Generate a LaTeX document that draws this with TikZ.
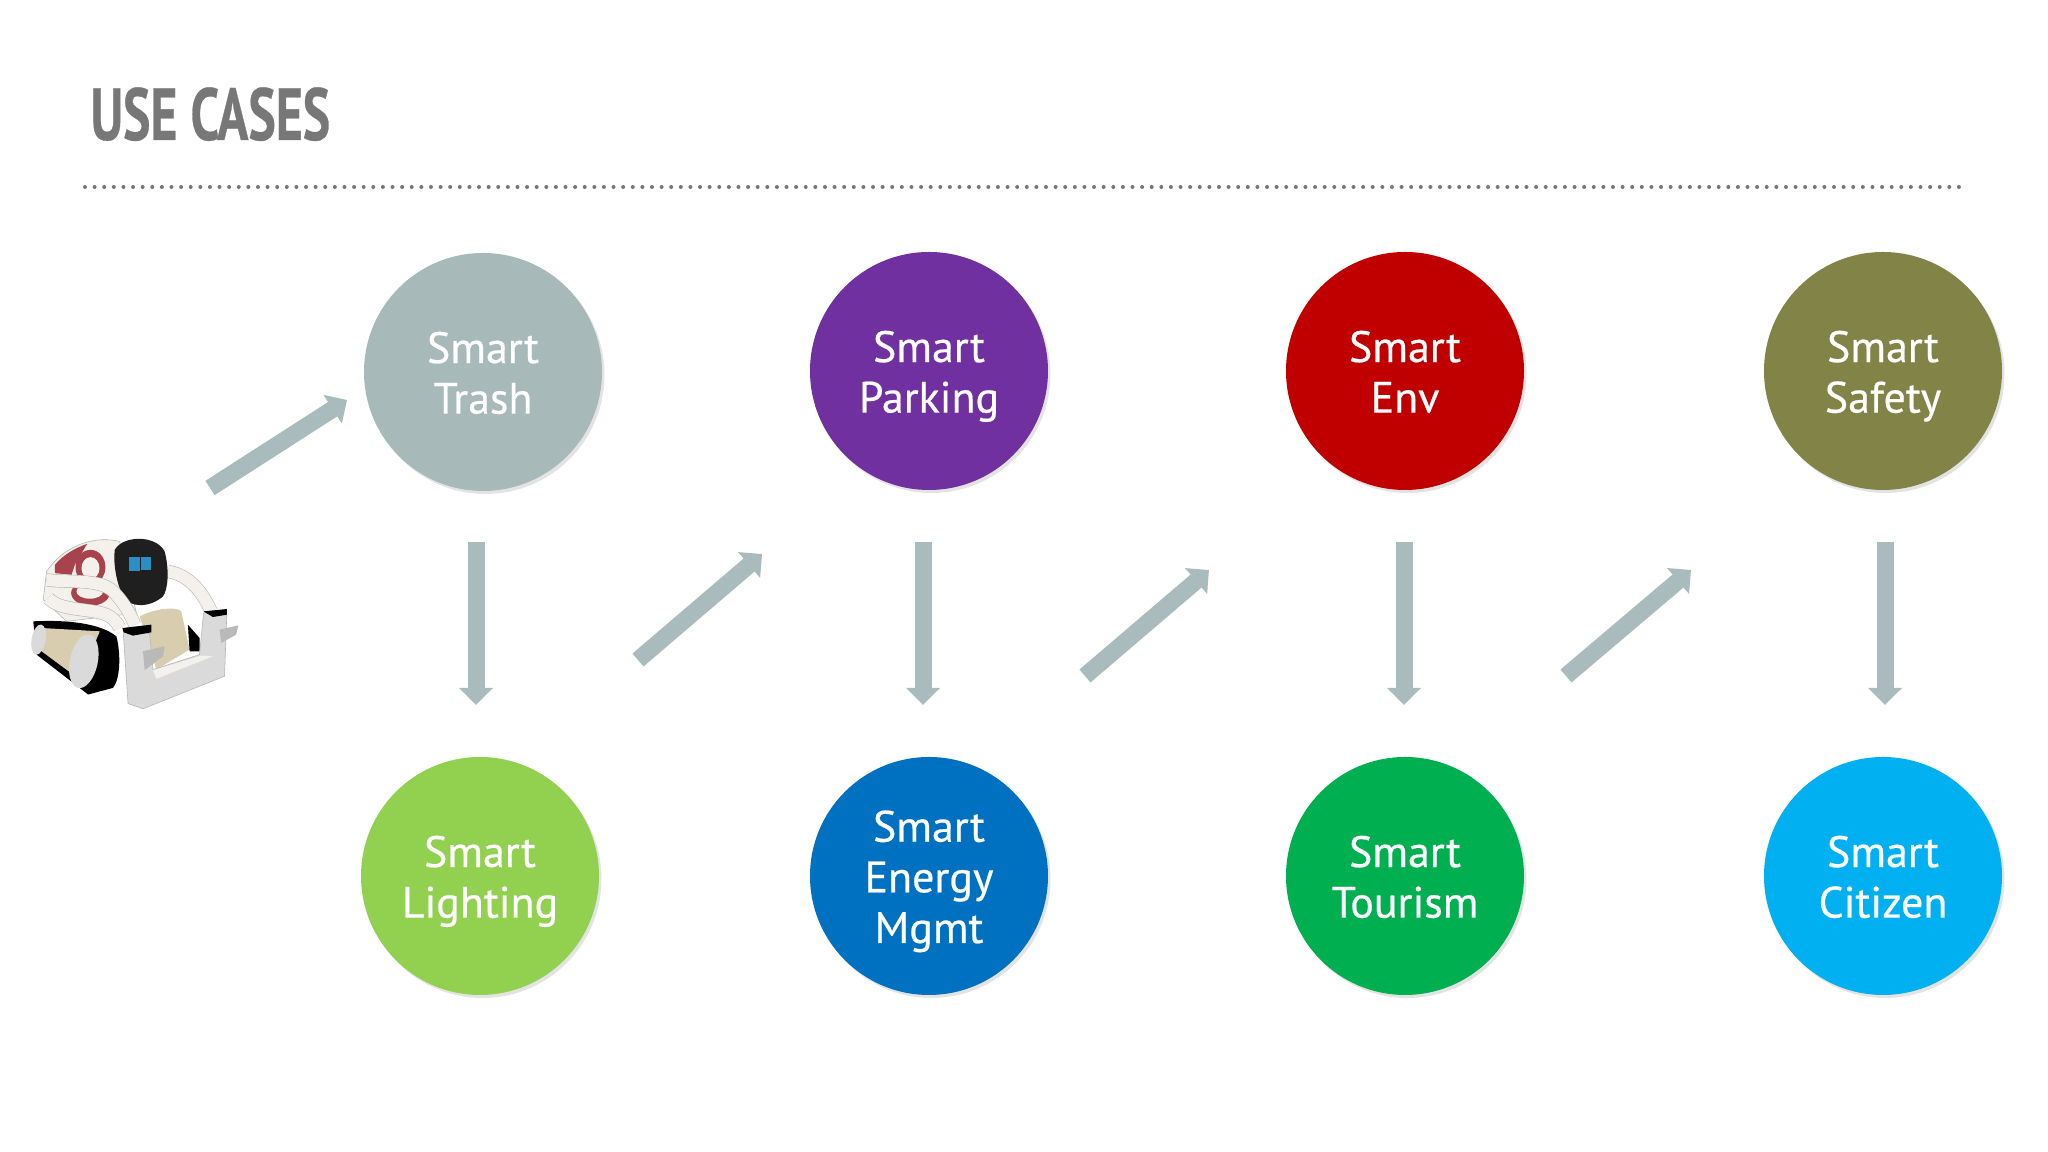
\documentclass[tikz,border=0pt]{standalone}
\usepackage{fontspec}
\setmainfont[FakeBold=0.5]{PT Sans}
\newfontfamily\titleFont[FakeStretch=0.70,FakeBold=0.4]{PT Sans Bold}
\usetikzlibrary{arrows.meta}
\usetikzlibrary{shadows}
\definecolor{titleColor}{HTML}{777777}
\definecolor{arrowColor}{HTML}{A9BBBC}
\definecolor{trashColor}{HTML}{A8B9BA}
\definecolor{parkingColor}{HTML}{7030A0}
\definecolor{envColor}{HTML}{C00000}
\definecolor{safetyColor}{HTML}{828447}
\definecolor{lightingColor}{HTML}{92D050}
\definecolor{energyColor}{HTML}{0070C0}
\definecolor{tourismColor}{HTML}{00B050}
\definecolor{citizenColor}{HTML}{00B0F0}
\definecolor{creamColor}{HTML}{D8CDAE}
\definecolor{liftColor}{HTML}{DADADA}
\definecolor{shellColor}{HTML}{F4F1EC}
\definecolor{edgeColor}{HTML}{B5B5B5}
\definecolor{ringColor}{HTML}{A8424C}
\definecolor{eyeColor}{HTML}{2A8FC4}
\newcommand{\lead}{\rule{0pt}{12.9pt}}
\tikzset{
  useCase/.style={circle, minimum size=2.38cm, inner sep=0pt, align=center, text=white,
    font=\fontsize{12.5}{14.4}\selectfont,
    execute at end node=\rule[-3.6pt]{0pt}{3.6pt},
    drop shadow={shadow xshift=0.025cm, shadow yshift=-0.03cm, opacity=0.22}},
  flow/.style={line width=0.17cm, draw=arrowColor, -{Triangle[width=0.33cm,length=0.17cm]}},
  rail/.style={draw=edgeColor, line width=0.006cm, double=shellColor, double distance=0.12cm},
  hull/.style={fill=shellColor, draw=edgeColor, line width=0.006cm},
}
\begin{document}
\begin{tikzpicture}
  \useasboundingbox (0,0) rectangle (20.48,11.52);

  \node[anchor=base west, inner sep=0pt, text=titleColor, font=\titleFont\fontsize{21}{24}\selectfont] (title) at (0.90,10.12) {USE CASES};
  \coordinate (ruleL) at (0.85,9.65);
  \coordinate (ruleR) at (19.60,9.65);
  \draw[line width=0.04cm, titleColor, line cap=round, dash pattern=on 0pt off 0.0961cm] (ruleL) -- (ruleR);

  \node[useCase, fill=trashColor] (trash) at (4.83,7.80) {\lead Smart\\Trash};
  \node[useCase, fill=parkingColor] (parking) at (9.29,7.81) {\lead Smart\\Parking};
  \node[useCase, fill=envColor] (env) at (14.05,7.81) {\lead Smart\\Env};
  \node[useCase, fill=safetyColor] (safety) at (18.83,7.81) {\lead Smart\\Safety};

  \node[useCase, fill=lightingColor] (lighting) at (4.80,2.76) {\lead Smart\\Lighting};
  \node[useCase, fill=energyColor] (energy) at (9.29,2.76) {\lead Smart\\Energy\\Mgmt};
  \node[useCase, fill=tourismColor] (tourism) at (14.05,2.76) {\lead Smart\\Tourism};
  \node[useCase, fill=citizenColor] (citizen) at (18.83,2.76) {\lead Smart\\Citizen};

  \coordinate (downA) at (4.76,6.10);
  \coordinate (downB) at (4.76,4.47);
  \coordinate (downC) at (9.23,6.10);
  \coordinate (downD) at (9.23,4.47);
  \coordinate (downE) at (14.04,6.10);
  \coordinate (downF) at (14.04,4.47);
  \coordinate (downG) at (18.85,6.10);
  \coordinate (downH) at (18.85,4.47);
  \draw[flow] (downA) -- (downB);
  \draw[flow] (downC) -- (downD);
  \draw[flow] (downE) -- (downF);
  \draw[flow] (downG) -- (downH);

  \coordinate (riseA) at (2.10,6.64);
  \coordinate (riseB) at (3.47,7.52);
  \coordinate (riseC) at (6.38,4.92);
  \coordinate (riseD) at (7.62,5.98);
  \coordinate (riseE) at (10.85,4.76);
  \coordinate (riseF) at (12.09,5.82);
  \coordinate (riseG) at (15.66,4.76);
  \coordinate (riseH) at (16.91,5.82);
  \draw[flow] (riseA) -- (riseB);
  \draw[flow] (riseC) -- (riseD);
  \draw[flow] (riseE) -- (riseF);
  \draw[flow] (riseG) -- (riseH);

  \begin{scope}[shift={(0,6.72)}, x=0.003333cm, y=-0.003333cm]
    \draw[rail] (505,275) .. controls (570,285) and (610,340) .. (635,395);
    \fill[hull] (140,275) .. controls (190,200) and (280,165) .. (360,185) -- (410,400) -- (200,425) -- (130,360) -- cycle;
    \fill[ringColor] (272,262) ellipse (45 and 52);
    \fill[shellColor] (272,265) ellipse (27 and 33);
    \fill[ringColor] (272,340) ellipse (58 and 38);
    \fill[shellColor] (270,335) ellipse (40 and 22);
    \fill[ringColor] (165,255) .. controls (190,225) and (225,205) .. (262,192) -- (225,255) -- (215,285) -- (165,280) -- cycle;
    \fill[creamColor] (420,410) .. controls (470,385) and (530,380) .. (545,395) -- (570,510) -- (470,570) -- cycle;
    \fill[black] (565,435) -- (600,475) -- (600,515) -- (570,515) -- cycle;
    \fill[black!88] (345,210) .. controls (370,165) and (470,165) .. (495,215) .. controls (510,270) and (505,330) .. (490,350) .. controls (450,385) and (390,385) .. (370,350) .. controls (350,310) and (340,250) .. (345,210) -- cycle;
    \fill[eyeColor] (388,232) rectangle (421,274);
    \fill[eyeColor] (424,232) rectangle (455,272);
    \fill[black] (100,425) .. controls (200,420) and (300,430) .. (350,470) .. controls (365,530) and (360,600) .. (340,625) -- (265,645) -- (110,525) -- cycle;
    \fill[creamColor] (125,445) -- (300,455) -- (240,600) -- (125,515) -- cycle;
    \fill[liftColor, rotate around={-12:(252,545)}] (252,545) ellipse (42 and 82);
    \fill[liftColor, rotate around={-10:(116,480)}] (116,480) ellipse (21 and 46);
    \draw[rail] (140,300) .. controls (200,310) and (300,295) .. (340,335) .. controls (375,370) and (395,410) .. (405,435);
    \draw[rail] (145,355) .. controls (180,395) and (270,385) .. (320,405) .. controls (340,415) and (350,425) .. (360,445);
    \fill[liftColor, draw=edgeColor, line width=0.006cm] (370,450) -- (450,462) -- (460,570) -- (600,525) -- (612,400) -- (682,402) -- (675,590) -- (430,688) -- (385,672) -- cycle;
    \fill[shellColor] (460,572) -- (605,528) -- (640,530) -- (470,598) -- cycle;
    \fill[black] (368,445) -- (455,435) -- (455,458) -- (400,468) -- (372,458) -- cycle;
    \fill[black] (612,395) -- (682,388) -- (682,405) -- (640,412) -- cycle;
    \fill[liftColor!85!black] (430,515) -- (495,500) -- (490,530) -- (435,572) -- cycle;
    \fill[liftColor!85!black] (660,450) -- (717,437) -- (710,465) -- (665,490) -- cycle;
  \end{scope}
\end{tikzpicture}
\end{document}
